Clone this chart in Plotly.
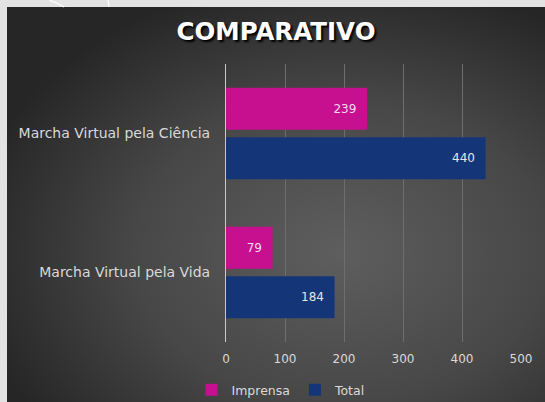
import base64
import plotly.graph_objects as go

categories = ["Marcha Virtual pela Ciência", "Marcha Virtual pela Vida"]
imprensa = [239, 79]
total = [440, 184]
series_names = ["Imprensa", "Total"]
x_ticks = [0, 100, 200, 300, 400, 500]
title_text = "COMPARATIVO"

W, H = 545, 402
ML, MR, MT, MB = 226, 24, 64, 60
PW, PH = W - ML - MR, H - MT - MB


def px(x):
    return (x - ML) / PW


def py(y):
    return (H - MB - y) / PH


FONT = "DejaVu Sans"
LABEL = "#d9d9d9"

svg = f"""<svg xmlns='http://www.w3.org/2000/svg' width='538' height='395' viewBox='0 0 538 395' preserveAspectRatio='none'>
<defs><radialGradient id='g' cx='62%' cy='62%' r='70%' fx='62%' fy='62%'>
<stop offset='0' stop-color='#5e5e5e'/><stop offset='0.55' stop-color='#474747'/><stop offset='1' stop-color='#262626'/>
</radialGradient></defs><rect width='538' height='395' fill='url(#g)'/></svg>"""
svg_uri = "data:image/svg+xml;base64," + base64.b64encode(svg.encode()).decode()

fig = go.Figure()
fig.add_trace(go.Bar(
    name=series_names[0], y=categories, x=imprensa, orientation="h",
    marker=dict(color="#c6108f", line=dict(width=0)),
    texttemplate="%{x}\u00a0\u00a0", textposition="inside", insidetextanchor="end",
    insidetextfont=dict(color="#f4d8ec", size=12, family=FONT),
))
fig.add_trace(go.Bar(
    name=series_names[1], y=categories, x=total, orientation="h",
    marker=dict(color="#143577", line=dict(width=0)),
    texttemplate="%{x}\u00a0\u00a0", textposition="inside", insidetextanchor="end",
    insidetextfont=dict(color="#e6e6e6", size=12, family=FONT),
))

fig.update_layout(
    width=W, height=H,
    margin=dict(l=ML, r=MR, t=MT, b=MB, pad=0, autoexpand=False),
    paper_bgcolor="#e3e3e3",
    plot_bgcolor="rgba(0,0,0,0)",
    barmode="group", bargap=0.29, bargroupgap=0.15,
    font=dict(family=FONT, color=LABEL, size=12),
    title=dict(
        text=title_text, x=276 / W, xanchor="center", y=1 - 31 / H, yanchor="middle",
        xref="container", yref="container",
        font=dict(family="DejaVu Sans", size=24.5, color="#ffffff", weight="bold",
                  shadow="2px 2px 2px #000000"),
    ),
    xaxis=dict(
        range=[0, 500], tickvals=x_ticks, showgrid=True, gridcolor="#6e6e6e", gridwidth=1,
        zeroline=False, showline=False, ticks="", ticklabelstandoff=8,
        tickfont=dict(size=12, color=LABEL, family=FONT), fixedrange=True,
    ),
    yaxis=dict(
        type="category", categoryorder="array", categoryarray=categories,
        autorange="reversed", showgrid=False, zeroline=False,
        showline=True, linecolor="#c8c8c8", linewidth=1, ticks="",
        ticklabelstandoff=12, tickfont=dict(size=14, color=LABEL, family=FONT),
    ),
    legend=dict(
        orientation="h", xref="container", yref="container",
        x=281 / W, xanchor="center", y=1 - 390 / H, yanchor="middle",
        font=dict(size=12.5, color=LABEL, family=FONT), bgcolor="rgba(0,0,0,0)",
        itemwidth=30, tracegroupgap=0,
    ),
    images=[dict(
        source=svg_uri, xref="paper", yref="paper",
        x=px(7), y=py(7), sizex=538 / PW, sizey=395 / PH,
        xanchor="left", yanchor="top", sizing="stretch", layer="below",
    )],
    shapes=[
        dict(type="path", xref="paper", yref="paper", layer="above",
             path=f"M {px(49)} {py(0)} Q {px(57)} {py(3)} {px(64)} {py(7)}",
             line=dict(color="#ffffff", width=1.2)),
        dict(type="line", xref="paper", yref="paper", layer="above",
             x0=px(108), y0=py(0), x1=px(109), y1=py(7),
             line=dict(color="#ffffff", width=1.2)),
    ],
    showlegend=True,
)

fig.write_html(
    "out.html",
    config={"displayModeBar": False},
    post_script=(
        "document.documentElement.style.margin='0';"
        "document.body.style.margin='0';"
        "document.body.style.overflow='hidden';"
        "var gd=document.getElementById('{plot_id}');"
        "gd.style.position='fixed';gd.style.left='0px';gd.style.top='0px';"
    ),
)
